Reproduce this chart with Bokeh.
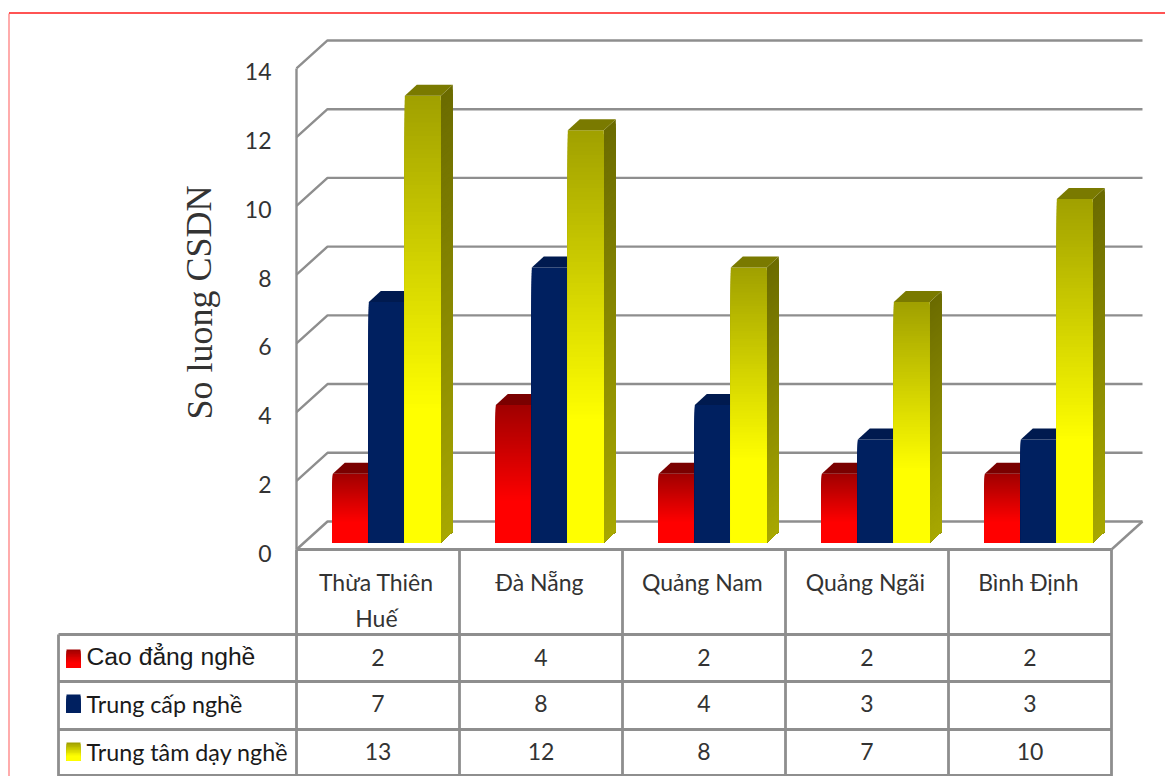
from bokeh.embed import file_html
from bokeh.resources import INLINE
from bokeh.plotting import figure
from bokeh.models import LinearAxis, FixedTicker, Range1d
from bokeh.core.properties import value

# Chart content
categories = ["Thừa Thiên\nHuế", "Đà Nẵng", "Quảng Nam", "Quảng Ngãi", "Bình Định"]
series_names = ["Cao đẳng nghề", "Trung cấp nghề", "Trung tâm dạy nghề"]
cao_dang = [2, 4, 2, 2, 2]
trung_cap = [7, 8, 4, 3, 3]
trung_tam = [13, 12, 8, 7, 10]
y_ticks = [0, 2, 4, 6, 8, 10, 12, 14]
y_title = "So luong CSDN"

# Page and scale layout, in pixels
W, H = 1165, 776
X0, CAT_W = 296, 163.0      # left edge of the first category, category width
Y0, UNIT = 549, 34.36       # pixel row of value 0, pixels per value unit


def X(px):
    return (px - X0) / CAT_W


def Y(py):
    return (Y0 - py) / UNIT


# 3D projection, in data units
WALL_DX, WALL_DY = 31 / CAT_W, 28 / UNIT
BAR_LIFT = 7 / UNIT
BAR_W = 36 / CAT_W
BAR_START = 36.3 / CAT_W
BAR_DX, BAR_DY = 12 / CAT_W, 11 / UNIT
GRID = "#8e8e8e"
TEXT = "#333333"
N_BANDS = 100
LABEL_DROP = 3.5            # tick labels sit slightly under their grid corner

p = figure(
    width=W, height=H, output_backend="svg", toolbar_location=None,
    x_range=Range1d(X(0), X(W)), y_range=Range1d(Y(H), Y(0)),
    x_axis_type=None, y_axis_type=None, min_border=0,
    outline_line_color=None, background_fill_color="white",
)
p.grid.visible = False
p.extra_y_ranges = {"tick_labels": Range1d(Y(H - LABEL_DROP), Y(-LABEL_DROP))}

# Page border
p.line([X(8.5), X(8.5)], [Y(13), Y(H)], line_color="#ff9090", line_width=1.5)
p.line([X(8.5), X(W)], [Y(12.5), Y(12.5)], line_color="#ff1a1a", line_width=1.5)

# Back wall grid lines and their slanted returns to the value axis
for t in y_ticks:
    p.line([0, WALL_DX, len(categories) + WALL_DX],
           [t, t + WALL_DY, t + WALL_DY],
           line_color=GRID, line_width=2.4)

# Value axis line and floor edge on the right
p.line([0, 0], [min(y_ticks), max(y_ticks)], line_color=GRID, line_width=2.4)
p.line([len(categories), len(categories) + WALL_DX], [0, WALL_DY],
       line_color=GRID, line_width=2.4)


def shade(rgb, k):
    return "#%02x%02x%02x" % tuple(int(round(c * k)) for c in rgb)


def ramp(t, top, bottom=1.0, hold=0.3):
    """Brightness at height fraction t: full near the foot, falling to top."""
    if t <= hold:
        return bottom
    return bottom + (top - bottom) * (t - hold) / (1 - hold)


def draw_bar(x, v, rgb, graded):
    base = BAR_LIFT
    x1 = x + BAR_W
    # Front face and side face are painted tallest band first
    left, right, tops, fills = [], [], [], []
    side_x, side_y, side_c = [], [], []
    for i in range(N_BANDS, 0, -1):
        t = i / N_BANDS
        level = base + v * t
        front = ramp(t, 0.63) if graded else 1.0
        side = ramp(t, 0.42, 0.66, 0.0) if graded else 0.7
        left.append(x)
        right.append(x1)
        tops.append(level)
        fills.append(shade(rgb, front))
        side_x.append([x1, x1 + BAR_DX, x1 + BAR_DX, x1])
        side_y.append([base, base + BAR_DY, level + BAR_DY, level])
        side_c.append(shade(rgb, side))
    p.patches(side_x, side_y, fill_color=side_c, line_color=None)
    p.quad(left=left, right=right, top=tops, bottom=base,
           fill_color=fills, line_color=None)
    # Top face
    level = base + v
    p.patch([x, x + BAR_DX, x1 + BAR_DX, x1],
            [level, level + BAR_DY, level + BAR_DY, level],
            fill_color=shade(rgb, 0.48 if graded else 0.82), line_color=None)


series = [
    (cao_dang, (255, 0, 0), True),
    (trung_cap, (0, 32, 96), False),
    (trung_tam, (255, 255, 0), True),
]
for i in range(len(categories)):
    for j, (vals, rgb, graded) in enumerate(series):
        draw_bar(i + BAR_START + j * BAR_W, vals[i], rgb, graded)

# Value axis labels at the front left corner of the wall
axis = LinearAxis(
    y_range_name="tick_labels", fixed_location=0,
    ticker=FixedTicker(ticks=y_ticks),
    axis_line_color=None,
    major_tick_line_color=None, minor_tick_line_color=None,
    major_label_text_font="Lato", major_label_text_font_size="23px",
    major_label_text_color=TEXT, major_label_standoff=19,
)
p.add_layout(axis, "left")

# Value axis title
p.text([X(199)], [Y(302)], text=[y_title], angle=1.5708,
       text_font=value("Liberation Serif"), text_font_size="36px",
       text_color=TEXT, text_align="center", text_baseline="middle")

# Data table under the plot
row_lines = [634, 681, 729, 775]
col_left = 58
n = len(categories)
p.line([0, n], [0, 0], line_color=GRID, line_width=2.8)
for py in row_lines:
    p.line([X(col_left), n], [Y(py), Y(py)], line_color=GRID, line_width=2.8)
p.line([X(col_left), X(col_left)], [Y(634), Y(H)], line_color=GRID, line_width=2.8)
for i in range(n + 1):
    p.line([i, i], [0, Y(H)], line_color=GRID, line_width=2.8)

# Category headers
for i, label in enumerate(categories):
    for k, part in enumerate(label.split("\n")):
        p.text([i + 0.5 - 0.01], [Y(581 + 36 * k)], text=[part],
               text_font=value("Lato"), text_font_size="23px", text_color=TEXT,
               text_align="center", text_baseline="middle")

# Table rows: swatch, series name, values
row_text = [657, 703, 751]
swatch_top = [649, 694, 742]
name_size = ["24.7px", "23.3px", "23.3px"]
name_font = ["Liberation Sans", "Lato", "Lato"]
for r, (vals, rgb, graded) in enumerate(series):
    sx0, sx1 = X(66), X(80)
    stop, sbot = Y(swatch_top[r]), Y(swatch_top[r] + 18)
    for b in range(12, 0, -1):
        t = b / 12
        k = ramp(t, 0.63) if graded else 1.0
        p.quad(left=[sx0], right=[sx1], top=[sbot + (stop - sbot) * t], bottom=[sbot],
               fill_color=shade(rgb, k), line_color=None)
    p.text([X(86)], [Y(row_text[r] - (1 if r == 0 else 0))], text=[series_names[r]],
           text_font=value(name_font[r]), text_font_size=name_size[r], text_color="#1a1a1a",
           text_align="left", text_baseline="middle")
    p.text([i + 0.5 for i in range(n)], [Y(row_text[r])] * n, text=[str(v) for v in vals],
           text_font=value("Lato"), text_font_size="23px", text_color=TEXT,
           text_align="center", text_baseline="middle")

open("out.html", "w").write(file_html(p, INLINE))
